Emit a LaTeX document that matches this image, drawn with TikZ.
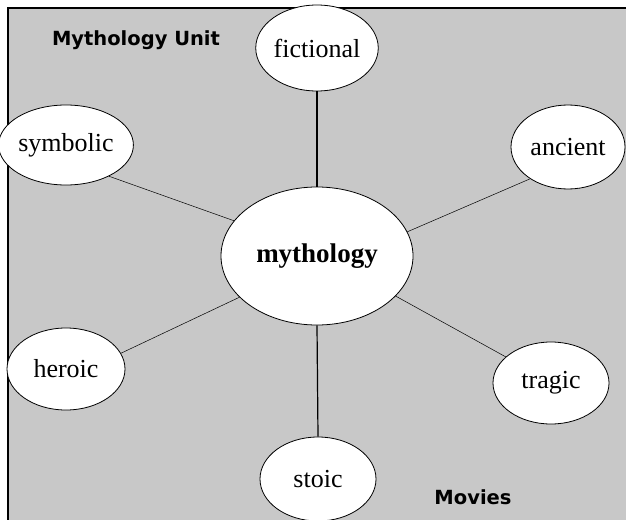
\documentclass[tikz,border=0pt]{standalone}
\usepackage{fontspec}
\setmainfont{Liberation Serif}
\newfontfamily\headfont{DejaVu Sans}
\usetikzlibrary{shapes.geometric}

\definecolor{boardgray}{RGB}{200,200,200}

\begin{document}
\begin{tikzpicture}[x=1pt,y=-1pt,
    bubble/.style={ellipse,draw=black,line width=0.8pt,fill=white,inner sep=0pt,
        font=\fontsize{26}{29}\selectfont},
    spoke/.style={draw=black,line width=0.5pt},
    stem/.style={draw=black,line width=1.2pt},
    caption/.style={font=\headfont\bfseries\fontsize{19.5}{22}\selectfont}]
    \useasboundingbox (0,0) rectangle (626,519);

    \fill[boardgray] (8,8) rectangle (640,530); %the gray board, runs off the page
    \draw[line width=1.8pt] (8,530) -- (8,8) -- (640,8); %only left and top edges show

    \node[caption] (unit) at (136,40) {Mythology Unit};
    \node[caption] (movies) at (473,497) {Movies};

    \node[bubble,minimum width=192pt,minimum height=138pt,font=\fontsize{27}{30}\selectfont\bfseries] (myth) at (317,256) {mythology};
    \node[bubble,minimum width=118pt,minimum height=86pt] (fict) at (317,48) {fictional};
    \node[bubble,minimum width=118pt,minimum height=80pt] (symb) at (66,145) {symbolic};
    \node[bubble,minimum width=114pt,minimum height=84pt] (anc) at (568,147) {ancient};
    \node[bubble,minimum width=118pt,minimum height=82pt] (hero) at (66,369) {heroic};
    \node[bubble,minimum width=116pt,minimum height=82pt] (trag) at (551,383) {tragic};
    \node[bubble,minimum width=116pt,minimum height=84pt] (stoic) at (318,479) {stoic};

    \path[stem] (fict.south) -- (myth.north); %straight up and down
    \path[stem] (myth.south) -- (stoic.north);

    \path[spoke] (symb.-36) -- (myth.157);
    \path[spoke] (anc.-140) -- (myth.15);
    \path[spoke] (hero.16) -- (myth.208);
    \path[spoke] (trag.150) -- (myth.-27);
\end{tikzpicture}
\end{document}
